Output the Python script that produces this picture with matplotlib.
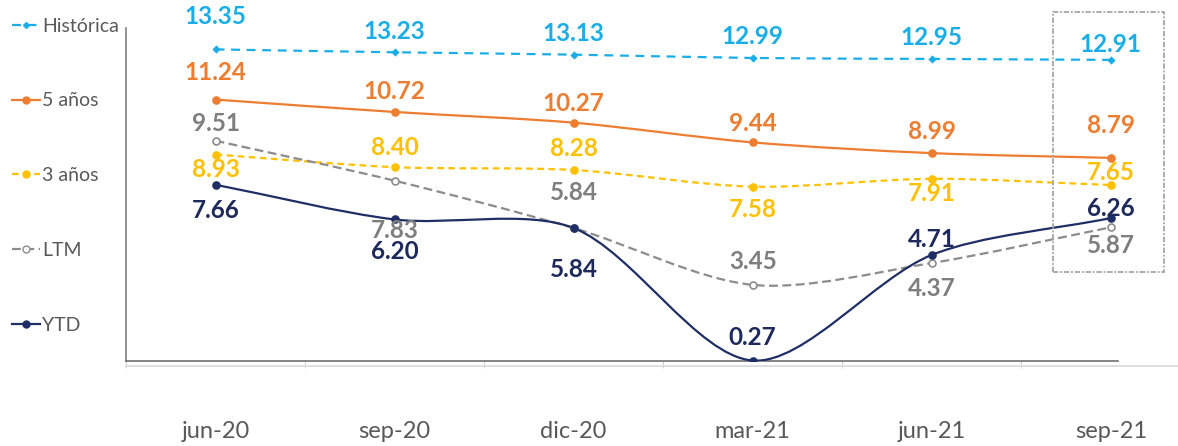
import matplotlib.pyplot as plt
import numpy as np
from matplotlib.path import Path
from matplotlib.patches import PathPatch, Rectangle

plt.rcParams['font.family'] = ['Lato', 'DejaVu Sans']

# data
periods = ['jun-20', 'sep-20', 'dic-20', 'mar-21', 'jun-21', 'sep-21']
historica = [13.35, 13.23, 13.13, 12.99, 12.95, 12.91]
cinco_anios = [11.24, 10.72, 10.27, 9.44, 8.99, 8.79]
tres_anios = [8.93, 8.40, 8.28, 7.58, 7.91, 7.65]
ltm = [9.51, 7.83, 5.84, 3.45, 4.37, 5.87]
ytd = [7.66, 6.20, 5.84, 0.27, 4.71, 6.26]

# label offsets in pixels (negative = above the point in the picture)
off_hist = [-33, -21, -21, -21, -21, -15]
off_5 = [-27, -20, -19, -19, -22, -32]
off_3 = [15, -20, -22, 23, 15, -12]
off_ltm = [-17, 50, -36, -23, 25, 18]
off_ytd = [26, 32, 41, -23, -15, -10]

YSCALE = 23.78 / 179.2  # pixel aspect of one y unit vs one category


def smooth_path(x, y):
    # excel-like smoothed line: cubic bezier through every point,
    # control arms weighted by the neighbouring segment lengths
    pts = np.column_stack([x, y]).astype(float)
    n = len(pts)
    seg = [np.hypot(pts[i + 1, 0] - pts[i, 0], (pts[i + 1, 1] - pts[i, 1]) * YSCALE)
           for i in range(n - 1)]
    out_c, in_c = [], []
    for i in range(n):
        a = pts[max(i - 1, 0)]
        b = pts[min(i + 1, n - 1)]
        d = b - a
        lp = seg[i - 1] if i > 0 else 0.0
        ln = seg[i] if i < n - 1 else 0.0
        tot = lp + ln
        out_c.append(pts[i] + d * ln / tot * 0.3)
        in_c.append(pts[i] - d * lp / tot * 0.3)
    verts = [pts[0]]
    codes = [Path.MOVETO]
    for i in range(n - 1):
        verts += [out_c[i], in_c[i + 1], pts[i + 1]]
        codes += [Path.CURVE4] * 3
    return Path(verts, codes)


fig = plt.figure(figsize=(11.78, 4.46), dpi=100)
ax = fig.add_axes([126/1178, 1 - 361/446, (1118 - 126)/1178, (361 - 28)/446])

x = np.arange(len(periods))
series = [
    ('Histórica', historica, '#1AADE8', (0, (4, 3)), 'D', 3, '#1AADE8', off_hist, '#1AADE8'),
    ('5 años', cinco_anios, '#ED7D31', '-', 'o', 5, '#ED7D31', off_5, '#ED7D31'),
    ('3 años', tres_anios, '#FFC000', (0, (3, 2)), 'o', 5, '#FFC000', off_3, '#FFC000'),
    ('LTM', ltm, '#8C8C8C', (0, (4, 2)), 'o', 5, 'white', off_ltm, '#7F7F7F'),
    ('YTD', ytd, '#1F2F66', '-', 'o', 5, '#1F2F66', off_ytd, '#1F2A5C'),
]

handles = []
for name, vals, col, ls, mk, ms, mfc, offs, tcol in series:
    ax.add_patch(PathPatch(smooth_path(x, vals), fill=False, edgecolor=col,
                           linestyle=ls, linewidth=1.6, zorder=3))
    ax.plot(x, vals, linestyle='none', color=col, marker=mk, markersize=ms,
            markerfacecolor=mfc, markeredgecolor=col, markeredgewidth=1.2, zorder=4)
    for xi, v, o in zip(x, vals, offs):
        ax.annotate(f'{v:.2f}', (xi, v), xytext=(0, -o), textcoords='offset pixels',
                    ha='center', va='center', fontsize=17.5, fontweight='bold',
                    color=tcol, zorder=5)
    lh, = plt.plot([], [], linestyle=ls, color=col, marker=mk, markersize=ms,
                   markerfacecolor=mfc, markeredgecolor=col, linewidth=1.6)
    handles.append(lh)

ax.set_xlim(-0.5, 5.04)
ax.set_ylim(0.25, 14.25)

for s in ['top', 'right']:
    ax.spines[s].set_visible(False)
ax.spines['left'].set_color('#808080')
ax.spines['bottom'].set_color('#707070')
ax.spines['left'].set_linewidth(1.2)
ax.spines['bottom'].set_linewidth(1.2)
ax.set_yticks([])
ax.set_xticks(np.arange(-0.5, 5.0, 1.0), minor=True)
ax.set_xticks(x)
ax.set_xticklabels(periods, fontsize=17, color='#595959')
ax.tick_params(axis='x', which='major', length=0, pad=43)
ax.tick_params(axis='x', which='minor', length=5, color='#C8C8C8')

# faint shadow line under the axis
fig.add_artist(plt.Line2D([126/1178, 1.0], [1 - 366/446, 1 - 366/446],
                          color='#D9D9D9', linewidth=1.2))

fig.legend(handles, [s[0] for s in series], loc='upper left',
           bbox_to_anchor=(0.0034, 0.978), frameon=False, fontsize=14,
           handlelength=1.45, handletextpad=0.1, labelspacing=2.97,
           borderaxespad=0.1, borderpad=0.3, labelcolor='#595959')

# highlight box around the last period
fig.add_artist(Rectangle((1053/1178, 1 - 272/446), (1164 - 1053)/1178, (272 - 12)/446,
                         transform=fig.transFigure, fill=False, edgecolor='#A6A6A6',
                         linestyle=(0, (3, 1, 1, 1)), linewidth=1.3))

fig.savefig('out.png', dpi=100)
